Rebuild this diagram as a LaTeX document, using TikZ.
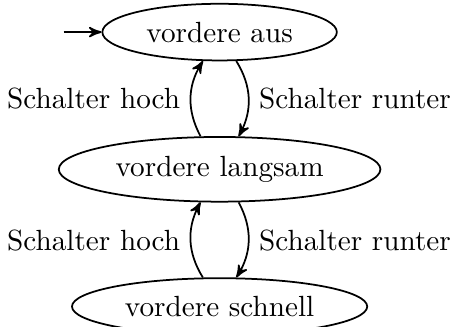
\documentclass[tikz,border=0pt]{standalone}
\usetikzlibrary{automata,arrows,positioning,shapes.geometric}

\tikzstyle{zustand}=[draw,ellipse]

\begin{document}
\begin{tikzpicture}[auto,semithick,>=stealth',node distance=9mm]
  \useasboundingbox (-75.2pt,11pt) rectangle (78.9pt,-100.7pt);

  \node[zustand,initial,initial text=] (aus) at (0,0) {vordere aus};
  \node[zustand,below=of aus] (langsam) {vordere langsam};
  \node[zustand,below=of langsam] (schnell) {vordere schnell};

  \path[->] (langsam) edge[bend left] node {Schalter hoch} (aus);
  \path[->] (aus) edge[bend left] node {Schalter runter} (langsam);
  \path[->] (schnell) edge[bend left] node {Schalter hoch} (langsam);
  \path[->] (langsam) edge[bend left] node {Schalter runter} (schnell);
\end{tikzpicture}
\end{document}
